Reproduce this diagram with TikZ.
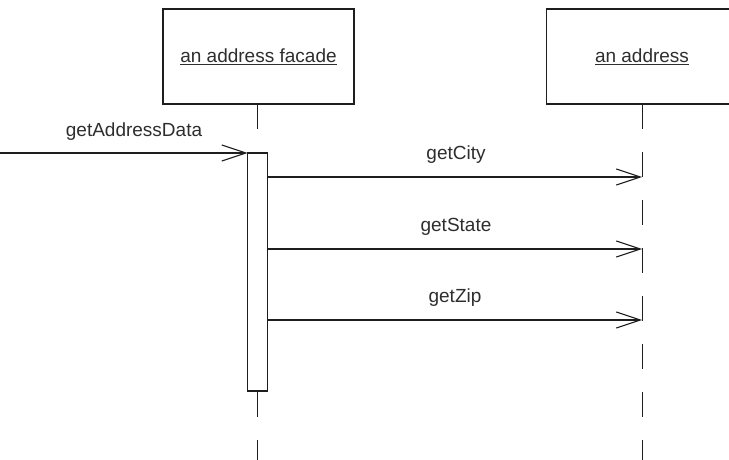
\documentclass[tikz,border=0pt]{standalone}
\usepackage{fontspec}
\setmainfont{Liberation Sans}
\usetikzlibrary{arrows.meta}
\definecolor{ink}{HTML}{1E1E1E}
\definecolor{txt}{HTML}{2E2E2E}
\begin{document}
\begin{tikzpicture}[x=1pt,y=-1pt,
  obj/.style={draw=ink, line width=1.4pt, minimum width=191pt, minimum height=95pt,
    inner sep=0pt, outer sep=0pt, font=\fontsize{19}{23}\selectfont, text=txt},
  life/.style={draw=ink, line width=0.9pt, dash pattern=on 25pt off 23pt},
  msg/.style={draw=ink, line width=1.1pt, -{Straight Barb[length=24pt,width=16pt]}},
  lbl/.style={font=\fontsize{19}{23}\selectfont, text=txt, anchor=base, inner sep=0pt},
  actbox/.style={draw=ink, fill=white, line width=1.1pt, minimum width=20pt,
    minimum height=238pt, inner sep=0pt, outer sep=0pt}]
\clip (0,0) rectangle (729,460);
\fill[white] (0,0) rectangle (729,460);
% objects
\node[obj] (facade) at (258.5,56.5) {\underline{an address facade}};
\node[obj] (addr) at (642,56.5) {\underline{an address}};
% lifelines
\coordinate (fend) at (257.5,470);
\coordinate (aend) at (642,470);
\draw[life] (257.5,104) -- (fend);
\draw[life] (addr.south) -- (aend);
% activation
\node[actbox] (act) at (257.5,272) {};
% incoming call
\coordinate (start) at (0,153);
\draw[msg] (start) -- (act.north west);
\node[lbl] (l0) at (134,136) {getAddressData};
% messages
\coordinate (c1) at (642,177);
\coordinate (c2) at (642,249);
\coordinate (c3) at (642,320);
\draw[msg] (act.east |- c1) -- (c1);
\draw[msg] (act.east |- c2) -- (c2);
\draw[msg] (act.east |- c3) -- (c3);
\node[lbl] (l1) at (456,159) {getCity};
\node[lbl] (l2) at (456,231) {getState};
\node[lbl] (l3) at (455,302) {getZip};
\end{tikzpicture}
\end{document}
